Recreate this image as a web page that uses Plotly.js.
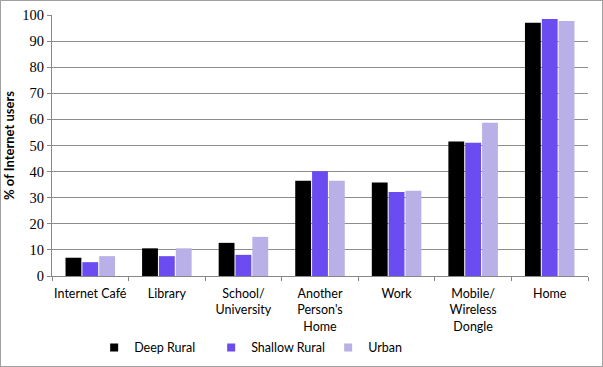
<!DOCTYPE html>
<html><head><meta charset="utf-8">
<script src="https://cdn.plot.ly/plotly-3.0.1.min.js"></script>
<style>html,body{margin:0;padding:0;background:#fff}#chart{width:601px;height:365px;border:1px solid #a0a0a0}</style>
</head><body><div id="chart"></div>
<script>
const categories = ["Internet Café", "Library", "School/<br>University", "Another<br>Person's<br>Home", "Work", "Mobile/<br>Wireless<br>Dongle", "Home"];
const deepRural = [7.0, 10.6, 12.7, 36.5, 35.8, 51.5, 97.0];
const shallowRural = [5.3, 7.6, 8.1, 40.1, 32.2, 51.1, 98.5];
const urban = [7.6, 10.6, 15.0, 36.5, 32.7, 58.7, 97.7];
const seriesNames = ["Deep Rural", "Shallow Rural", "Urban"];
const colors = ["#000000", "#6a4cf0", "#b8b0e6"];

const data = [];
[deepRural, shallowRural, urban].forEach((v, i) => {
  data.push({type: "bar", x: categories, y: v, name: seriesNames[i], showlegend: false,
    marker: {color: colors[i], line: {width: 0}}});
});
seriesNames.forEach((n, i) => {
  data.push({type: "scatter", mode: "markers", x: [null], y: [null], name: n,
    marker: {symbol: "square", size: 8, color: colors[i]}});
});

const sansFont = "Lato, sans-serif";
const layout = {
  width: 601, height: 365,
  margin: {l: 51, r: 14, t: 14, b: 90},
  paper_bgcolor: "#fff", plot_bgcolor: "#fff",
  barmode: "group", bargap: 0.34, bargroupgap: 0.06,
  showlegend: true,
  legend: {orientation: "h", xref: "container", yref: "container", x: 0.155, xanchor: "left",
    y: 0.05, yanchor: "middle",
    font: {family: sansFont, size: 12.5, color: "#000"}, entrywidth: 72,
    itemwidth: 14, tracegroupgap: 0, traceorder: "normal"},
  xaxis: {
    type: "category", tickson: "boundaries", ticks: "outside", ticklen: 4, tickcolor: "#888",
    showline: true, linecolor: "#888", linewidth: 1, showgrid: false,
    tickangle: 0, automargin: false, ticklabelstandoff: 6,
    tickfont: {family: sansFont, size: 12.5, color: "#000"}
  },
  yaxis: {
    range: [0, 100], dtick: 10, ticks: "outside", ticklen: 4, tickcolor: "#888",
    showline: true, linecolor: "#888", linewidth: 1, automargin: false,
    gridcolor: "#8c8c8c", gridwidth: 1, zeroline: false,
    tickfont: {family: "'Times New Roman', 'Liberation Serif', 'DejaVu Serif', serif", size: 14.5, color: "#000"},
    title: {text: "<b>% of Internet users</b>", font: {family: sansFont, size: 13, color: "#000"}, standoff: 8}
  }
};
Plotly.newPlot("chart", data, layout, {displayModeBar: false, staticPlot: true});
</script></body></html>
